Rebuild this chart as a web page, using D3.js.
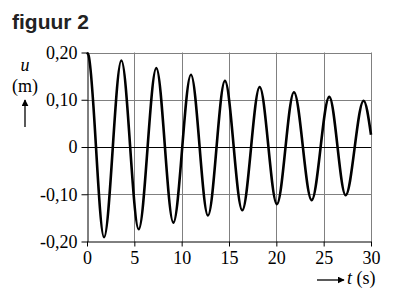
<!DOCTYPE html>
<html>
<head>
<meta charset="utf-8">
<script src="https://cdn.jsdelivr.net/npm/d3@7"></script>
<style>
  body { margin: 0; background: #fff; }
  svg { display: block; }
  .tick text { font-family: "Liberation Serif", "Times New Roman", serif; font-size: 18px; fill: #000; }
</style>
</head>
<body>
<script>
const w = 405;
const h = 295;

// values: extremes of the damped vibration
const times = [0, 0.15, 1.80, 3.63, 5.46, 7.32, 9.12, 10.98, 12.78, 14.57, 16.40, 18.24,
               20.06, 21.86, 23.73, 25.59, 27.32, 29.22, 30];
const displacement = [0.20, 0.195, -0.191, 0.183, -0.174, 0.167, -0.160, 0.153, -0.145, 0.140,
                      -0.134, 0.127, -0.121, 0.116, -0.1125, 0.106, -0.102, 0.098, 0.026];
const xTicks = [0, 5, 10, 15, 20, 25, 30];
const yTicks = [-0.20, -0.10, 0, 0.10, 0.20];

const svg = d3.select("body")
    .append("svg")
    .attr("width", w)
    .attr("height", h);

const xScale = d3.scaleLinear().domain([0, 30]).range([87, 371]);
const yScale = d3.scaleLinear().domain([-0.2, 0.2]).range([241.5, 52.5]);

const nl = d3.formatLocale({ decimal: ",", thousands: ".", grouping: [3], currency: ["", ""], minus: "-" });
const fmt = nl.format(".2f");

// grid
svg.append("g")
    .selectAll("line")
    .data(xTicks.slice(1))
    .enter()
    .append("line")
    .attr("x1", d => Math.round(xScale(d)) + 0.5)
    .attr("x2", d => Math.round(xScale(d)) + 0.5)
    .attr("y1", yScale(0.2))
    .attr("y2", yScale(-0.2))
    .attr("stroke", "#808080")
    .attr("stroke-width", 1);

svg.append("g")
    .selectAll("line")
    .data(yTicks.filter(d => d !== 0 && d !== -0.2))
    .enter()
    .append("line")
    .attr("x1", xScale(0))
    .attr("x2", xScale(30))
    .attr("y1", d => Math.round(yScale(d)) + 0.5)
    .attr("y2", d => Math.round(yScale(d)) + 0.5)
    .attr("stroke", "#808080")
    .attr("stroke-width", 1);

// zero line
svg.append("line")
    .attr("x1", xScale(0))
    .attr("x2", xScale(30))
    .attr("y1", Math.round(yScale(0)) + 0.5)
    .attr("y2", Math.round(yScale(0)) + 0.5)
    .attr("stroke", "#000");

// axes
const xAxis = d3.axisBottom(xScale)
    .tickValues(xTicks)
    .tickSize(5)
    .tickSizeOuter(0)
    .tickPadding(5)
    .tickFormat(d3.format("d"));
const yAxis = d3.axisLeft(yScale)
    .tickValues(yTicks)
    .tickSize(6)
    .tickSizeOuter(0)
    .tickPadding(4)
    .tickFormat(d => d === 0 ? "0" : fmt(d));

svg.append("g")
    .attr("transform", "translate(0," + yScale(-0.2) + ")")
    .call(xAxis);
svg.append("g")
    .attr("transform", "translate(" + (xScale(0) + 0.5) + ",0)")
    .call(yAxis);
svg.selectAll(".domain, .tick line").attr("stroke", "#000");

// curve
const line = d3.line()
    .x((d, i) => xScale(times[i]))
    .y(d => yScale(d))
    .curve(d3.curveMonotoneX);

svg.append("path")
    .attr("d", line(displacement))
    .attr("fill", "none")
    .attr("stroke", "#000")
    .attr("stroke-width", 2.6);

// title
svg.append("text")
    .attr("x", 12)
    .attr("y", 29)
    .attr("font-family", "Liberation Sans, Arial, sans-serif")
    .attr("font-weight", "bold")
    .attr("font-size", 21)
    .attr("fill", "#222")
    .text("figuur 2");

// y label
svg.append("text")
    .attr("x", 25)
    .attr("y", 71)
    .attr("text-anchor", "middle")
    .attr("font-family", "Liberation Serif, serif")
    .attr("font-style", "italic")
    .attr("font-size", 18)
    .text("u");
svg.append("text")
    .attr("x", 25)
    .attr("y", 92)
    .attr("text-anchor", "middle")
    .attr("font-family", "Liberation Serif, serif")
    .attr("font-size", 18)
    .text("(m)");

svg.append("defs").append("marker")
    .attr("id", "head")
    .attr("viewBox", "0 0 10 10")
    .attr("refX", 9)
    .attr("refY", 5)
    .attr("markerWidth", 7)
    .attr("markerHeight", 7)
    .attr("markerUnits", "userSpaceOnUse")
    .attr("orient", "auto")
    .append("path")
    .attr("d", "M0,0 L10,5 L0,10 z")
    .attr("fill", "#000");

svg.append("line")
    .attr("x1", 25).attr("x2", 25)
    .attr("y1", 127).attr("y2", 100)
    .attr("stroke", "#000")
    .attr("stroke-width", 1.3)
    .attr("marker-end", "url(#head)");

// x label
svg.append("line")
    .attr("x1", 317).attr("x2", 344)
    .attr("y1", 280).attr("y2", 280)
    .attr("stroke", "#000")
    .attr("stroke-width", 1.3)
    .attr("marker-end", "url(#head)");
const xl = svg.append("text")
    .attr("x", 347)
    .attr("y", 284)
    .attr("font-family", "Liberation Serif, serif")
    .attr("font-size", 18);
xl.append("tspan").attr("font-style", "italic").text("t");
xl.append("tspan").text(" (s)");
</script>
</body>
</html>
